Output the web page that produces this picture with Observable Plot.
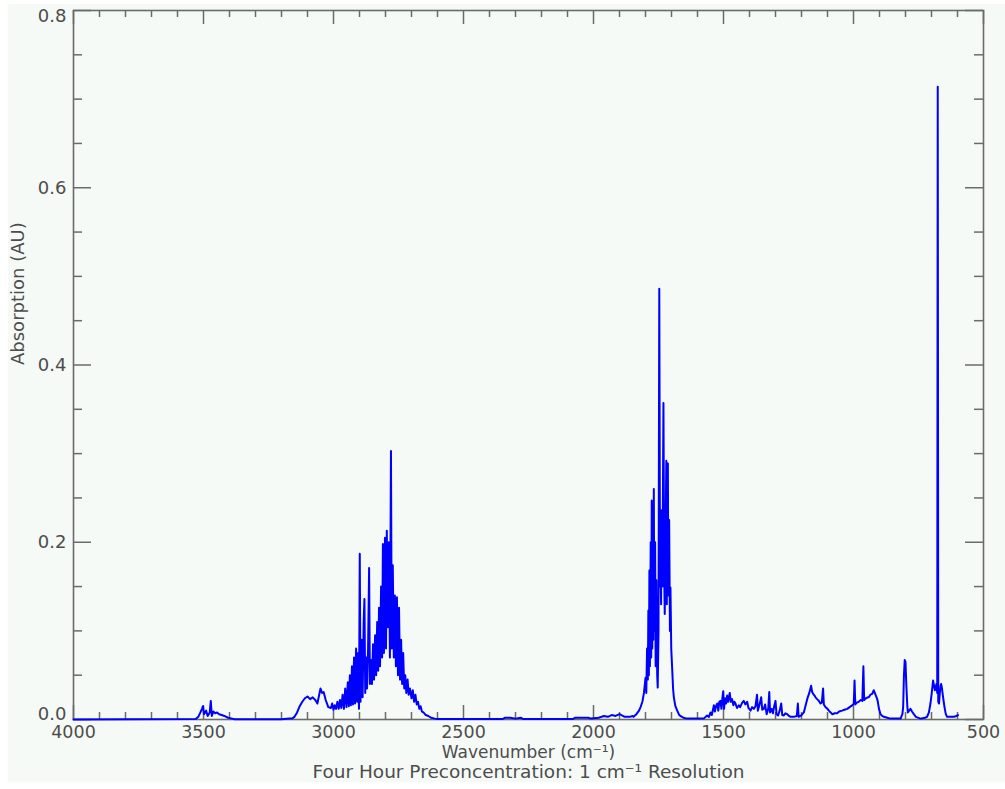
<!DOCTYPE html>
<html>
<head>
<meta charset="utf-8">
<script src="https://cdn.jsdelivr.net/npm/d3@7"></script>
<script src="https://cdn.jsdelivr.net/npm/@observablehq/plot@0.6"></script>
<style>
  html, body { margin: 0; padding: 0; background: #ffffff; }
  #chart { position: absolute; left: 8px; top: 4px; width: 997px; height: 778px; overflow: hidden; }
</style>
</head>
<body>
<div id="chart"></div>
<script>
// Wavenumber (cm^-1) and absorption (AU)
const wavenumber = [
  4000, 3530, 3520, 3512, 3506, 3502, 3498, 3490, 3484, 3476, 3472, 3468, 3462, 3455, 3448, 3440, 3430, 3420, 3405, 3390, 3380, 3200, 3170,
  3160, 3150, 3140, 3130, 3120, 3110, 3100, 3090, 3080, 3070, 3062, 3055, 3050, 3044, 3038, 3030, 3020, 3010, 3005, 3000, 2995, 2990, 2985, 2980, 2975, 2970, 2965, 2960, 2955, 2950, 2945, 2941, 2937, 2933, 2929, 2925, 2921, 2917, 2913, 2909, 2905, 2902, 2899, 2896, 2892, 2888, 2884, 2881, 2878, 2874, 2871, 2867, 2863, 2860, 2856, 2852, 2848, 2844, 2840, 2836, 2832, 2828, 2825, 2821, 2817, 2813, 2810, 2806, 2802, 2798, 2795, 2791, 2787, 2783, 2779, 2776, 2772, 2768, 2764, 2760, 2756, 2752, 2748, 2744, 2740, 2736, 2732, 2728, 2724, 2720, 2715, 2711, 2706, 2700, 2695, 2690, 2685, 2680, 2675, 2670, 2665, 2660, 2654, 2645, 2635, 2625, 2610, 2600,
  2350, 2340, 2320, 2300, 2280, 2270, 2080, 2070, 2020, 2010, 1980, 1960, 1945, 1930, 1915, 1900, 1880, 1860, 1850,
  1846, 1835, 1825, 1819, 1812, 1806, 1800, 1797, 1794, 1791, 1789, 1787, 1785, 1783, 1780, 1778, 1776, 1774, 1772, 1770, 1768, 1766, 1763, 1761, 1758, 1755, 1753, 1750, 1747, 1744, 1742, 1740, 1738, 1735, 1731, 1728, 1726, 1723, 1720, 1718, 1716, 1714, 1712, 1709, 1706, 1704, 1701, 1697, 1694, 1691, 1685, 1678, 1670, 1660, 1654, 1640, 1627, 1600, 1576,
  1563, 1556, 1550, 1545, 1540, 1537, 1533, 1529, 1524, 1520, 1516, 1512, 1508, 1504, 1501, 1498, 1494, 1490, 1486, 1482, 1476, 1472, 1467, 1462, 1458, 1454, 1448, 1441, 1436, 1428, 1422, 1416, 1409, 1404, 1396, 1390, 1383, 1377, 1371, 1368, 1362, 1355, 1351, 1345, 1340, 1334, 1328, 1324, 1321, 1315, 1310, 1305, 1300, 1296, 1290, 1284, 1278, 1274, 1268, 1262, 1255, 1248, 1242, 1230, 1218, 1214, 1211, 1200, 1191, 1185, 1176, 1170, 1163, 1159, 1155, 1150, 1146, 1140, 1133, 1127, 1122, 1117, 1114, 1108, 1100, 1095, 1088, 1082, 1072, 1063, 1055, 1044, 1035, 1024, 1015, 1005, 999, 996, 993, 987, 980, 972, 966, 962, 959, 952, 945, 941, 935, 928, 922, 918, 914, 910, 907, 902, 896, 890, 883, 870, 858, 819, 812, 809, 806, 803, 800, 797, 793, 791, 786, 781, 775, 768, 760, 742, 725, 717, 710, 704, 699, 694, 690, 687, 684, 681, 678, 676, 674, 671, 668, 665, 663, 660, 658, 654, 650, 645, 640, 625, 614, 605, 600, 598
];
const absorption = [
  0, 0.0005, 0.003, 0.008, 0.012, 0.015, 0.006, 0.01, 0.004, 0.008, 0.021, 0.004, 0.009, 0.007, 0.008, 0.006, 0.005, 0.004, 0.002, 0.001, 0.0003, 0.0003, 0.001,
  0.001, 0.003, 0.008, 0.015, 0.02, 0.024, 0.026, 0.023, 0.025, 0.022, 0.018, 0.028, 0.035, 0.03, 0.031, 0.022, 0.014, 0.013, 0.018, 0.011, 0.016, 0.012, 0.02, 0.012, 0.022, 0.013, 0.028, 0.012, 0.035, 0.014, 0.042, 0.015, 0.05, 0.016, 0.06, 0.017, 0.07, 0.018, 0.08, 0.02, 0.075, 0.012, 0.187, 0.02, 0.09, 0.025, 0.11, 0.136, 0.03, 0.07, 0.035, 0.08, 0.171, 0.04, 0.067, 0.04, 0.085, 0.045, 0.095, 0.05, 0.11, 0.055, 0.126, 0.06, 0.15, 0.07, 0.198, 0.075, 0.205, 0.08, 0.213, 0.104, 0.2, 0.07, 0.303, 0.08, 0.174, 0.07, 0.14, 0.06, 0.138, 0.05, 0.126, 0.045, 0.09, 0.04, 0.075, 0.035, 0.05, 0.03, 0.045, 0.028, 0.035, 0.024, 0.033, 0.02, 0.028, 0.017, 0.02, 0.012, 0.015, 0.009, 0.008, 0.005, 0.004, 0.002, 0.001, 0.0005,
  0.0005, 0.002, 0.002, 0.001, 0.002, 0.0005, 0.0005, 0.002, 0.002, 0.001, 0.002, 0.004, 0.003, 0.005, 0.004, 0.006, 0.003, 0.003, 0.004,
  0.003, 0.006, 0.01, 0.014, 0.02, 0.03, 0.047, 0.03, 0.08, 0.045, 0.123, 0.05, 0.168, 0.06, 0.2, 0.07, 0.247, 0.08, 0.2, 0.09, 0.26, 0.1, 0.2, 0.06, 0.157, 0.05, 0.036, 0.1, 0.486, 0.15, 0.171, 0.13, 0.236, 0.15, 0.357, 0.16, 0.119, 0.2, 0.292, 0.13, 0.28, 0.289, 0.14, 0.225, 0.1, 0.149, 0.08, 0.055, 0.035, 0.025, 0.015, 0.01, 0.005, 0.003, 0.002, 0.001, 0.001, 0.001, 0.001,
  0.0045, 0.003, 0.008, 0.005, 0.012, 0.016, 0.009, 0.015, 0.018, 0.01, 0.02, 0.021, 0.012, 0.025, 0.032, 0.012, 0.024, 0.018, 0.027, 0.02, 0.03, 0.02, 0.023, 0.016, 0.02, 0.018, 0.013, 0.016, 0.014, 0.019, 0.021, 0.017, 0.02, 0.013, 0.01, 0.014, 0.012, 0.015, 0.028, 0.01, 0.016, 0.025, 0.011, 0.012, 0.017, 0.006, 0.012, 0.031, 0.008, 0.012, 0.007, 0.015, 0.021, 0.006, 0.0045, 0.01, 0.018, 0.005, 0.0045, 0.007, 0.006, 0.004, 0.003, 0.003, 0.004, 0.018, 0.003, 0.005, 0.008, 0.015, 0.025, 0.03, 0.038, 0.031, 0.029, 0.027, 0.025, 0.023, 0.021, 0.018, 0.019, 0.035, 0.017, 0.014, 0.012, 0.01, 0.008, 0.006, 0.007, 0.007, 0.009, 0.01, 0.011, 0.012, 0.014, 0.016, 0.018, 0.044, 0.017, 0.019, 0.02, 0.022, 0.021, 0.06, 0.022, 0.024, 0.025, 0.025, 0.028, 0.029, 0.033, 0.03, 0.027, 0.024, 0.021, 0.012, 0.006, 0.004, 0.003, 0.002, 0.001, 0.001, 0.006, 0.014, 0.05, 0.067, 0.065, 0.04, 0.015, 0.008, 0.01, 0.012, 0.009, 0.006, 0.003, 0.001, 0.002, 0.003, 0.008, 0.018, 0.03, 0.044, 0.038, 0.033, 0.036, 0.04, 0.03, 0.714, 0.02, 0.018, 0.03, 0.038, 0.04, 0.036, 0.031, 0.022, 0.014, 0.006, 0.003, 0.003, 0.003, 0.004, 0.0045, 0.005
];

// Axis ticks and labels
const xMajorTicks = [4000, 3500, 3000, 2500, 2000, 1500, 1000, 500];
const xMinorTicks = [3900, 3800, 3700, 3600, 3400, 3300, 3200, 3100, 2900, 2800, 2700, 2600, 2400, 2300, 2200, 2100, 1900, 1800, 1700, 1600, 1400, 1300, 1200, 1100, 900, 800, 700, 600];
const yMajorTicks = [0, 0.2, 0.4, 0.6, 0.8];
const yMinorTicks = [0.05, 0.1, 0.15, 0.25, 0.3, 0.35, 0.45, 0.5, 0.55, 0.65, 0.7, 0.75];
const yLabelsBottom = [0];
const yLabelsMiddle = [0.2, 0.4, 0.6];
const yLabelsTop = [0.8];

const xTitle = "Wavenumber (cm\u207B\u00B9)";
const yTitle = "Absorption (AU)";
const caption = "Four Hour Preconcentration: 1 cm\u207B\u00B9 Resolution";

const data = wavenumber.map((w, i) => ({w, a: absorption[i]}));

const W = 997, H = 778;
const mL = 65, mR = 22, mT = 6, mB = 63;
const innerW = W - mL - mR, innerH = H - mT - mB;
const axisColor = "#6b6b6b";
const textColor = "#4d4d4d";
const fs = 18;
const fmt = d3.format(".1f");

const chart = Plot.plot({
  width: W,
  height: H,
  marginLeft: mL,
  marginRight: mR,
  marginTop: mT,
  marginBottom: mB,
  style: {background: "#f5faf6", fontFamily: "DejaVu Sans, sans-serif", overflow: "visible"},
  x: {domain: [4000, 500], axis: null},
  y: {domain: [0, 0.8], axis: null},
  marks: [
    Plot.frame({stroke: axisColor, strokeWidth: 1.6}),
    // bottom ticks (inward)
    Plot.tickX(xMajorTicks, {x: d => d, insetTop: innerH - 14, stroke: axisColor, strokeWidth: 1.5}),
    Plot.tickX(xMinorTicks, {x: d => d, insetTop: innerH - 7, stroke: axisColor, strokeWidth: 1.5}),
    // top ticks (inward)
    Plot.tickX(xMajorTicks, {x: d => d, insetBottom: innerH - 14, stroke: axisColor, strokeWidth: 1.5}),
    Plot.tickX(xMinorTicks, {x: d => d, insetBottom: innerH - 7, stroke: axisColor, strokeWidth: 1.5}),
    // left ticks
    Plot.tickY(yMajorTicks, {y: d => d, insetRight: innerW - 18, stroke: axisColor, strokeWidth: 1.5}),
    Plot.tickY(yMinorTicks, {y: d => d, insetRight: innerW - 9, stroke: axisColor, strokeWidth: 1.5}),
    // right ticks
    Plot.tickY(yMajorTicks, {y: d => d, insetLeft: innerW - 18, stroke: axisColor, strokeWidth: 1.5}),
    Plot.tickY(yMinorTicks, {y: d => d, insetLeft: innerW - 9, stroke: axisColor, strokeWidth: 1.5}),
    // spectrum
    Plot.line(data, {x: "w", y: "a", stroke: "#0000ff", strokeWidth: 2, curve: "linear"}),
    // tick labels
    Plot.text(xMajorTicks, {x: d => d, frameAnchor: "bottom", dy: 18, text: d => String(d), fill: textColor, fontSize: 17.5}),
    Plot.text(yLabelsBottom, {y: d => d, frameAnchor: "left", dx: -7, dy: -5, textAnchor: "end", text: d => fmt(d), fill: textColor, fontSize: fs}),
    Plot.text(yLabelsMiddle, {y: d => d, frameAnchor: "left", dx: -7, textAnchor: "end", text: d => fmt(d), fill: textColor, fontSize: fs}),
    Plot.text(yLabelsTop, {y: d => d, frameAnchor: "left", dx: -7, dy: 6, textAnchor: "end", text: d => fmt(d), fill: textColor, fontSize: fs}),
    // titles
    Plot.text([xTitle], {frameAnchor: "bottom", dy: 38, text: d => d, fill: textColor, fontSize: 17}),
    Plot.text([caption], {frameAnchor: "bottom", dy: 58, text: d => d, fill: textColor, fontSize: 18.5}),
    Plot.text([yTitle], {frameAnchor: "left", dx: -55, rotate: -90, text: d => d, fill: textColor, fontSize: fs})
  ]
});
document.getElementById("chart").appendChild(chart);
</script>
</body>
</html>
